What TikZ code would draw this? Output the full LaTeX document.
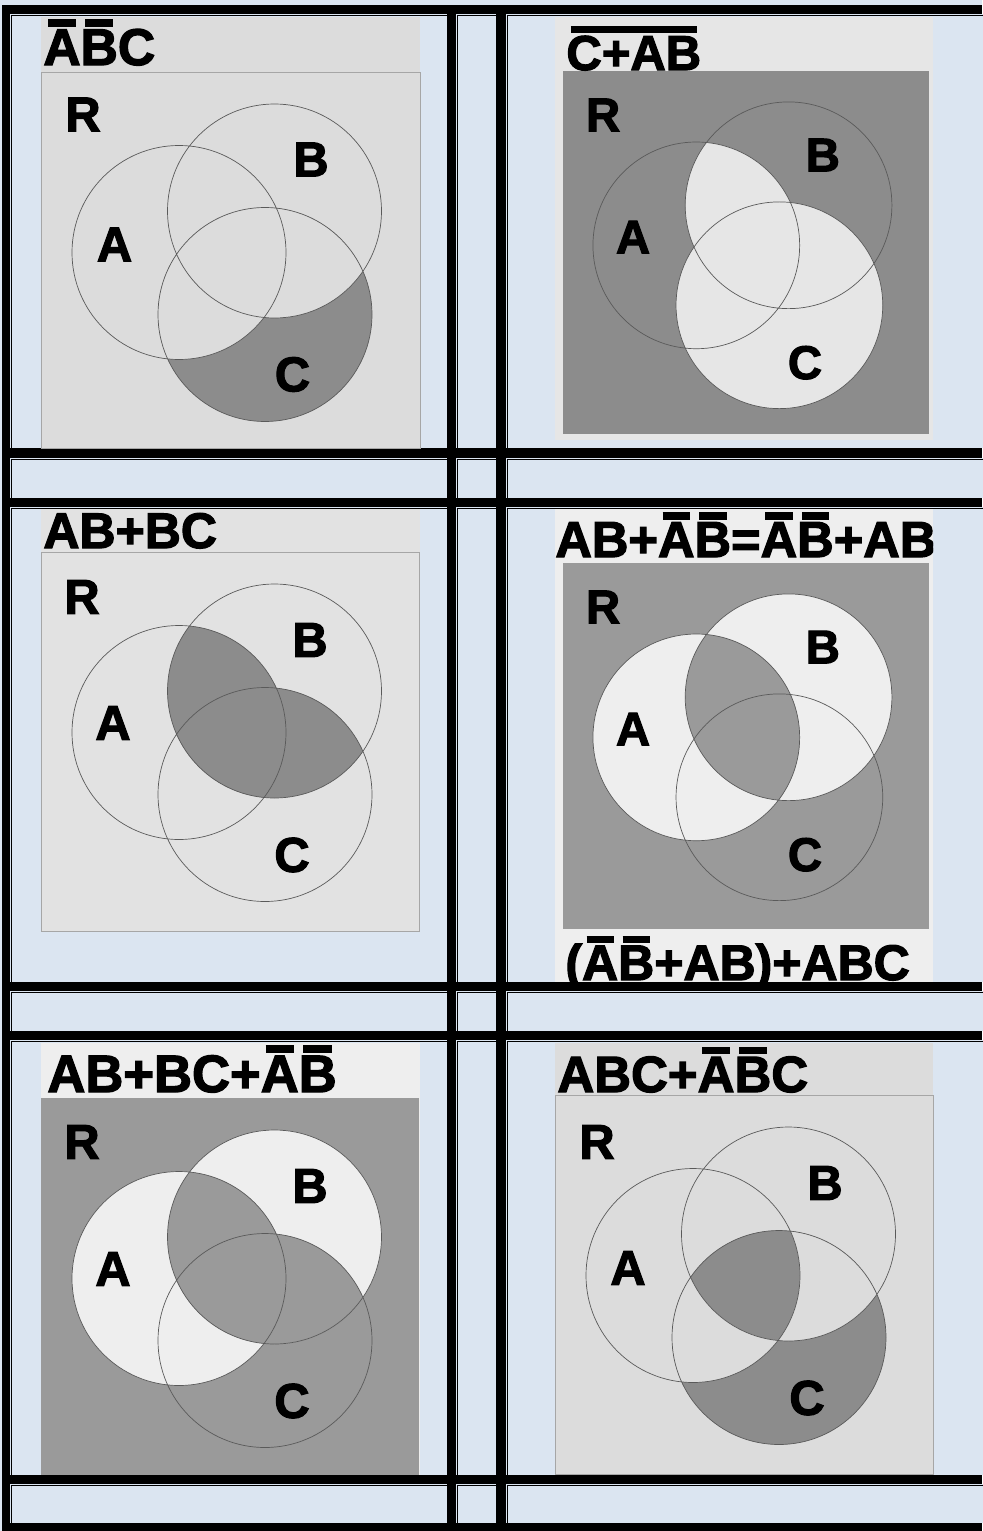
\documentclass[tikz,border=0pt]{standalone}
\usepackage{fontspec}
\setmainfont{Liberation Sans}[BoldFeatures={FakeBold=2.4}]
\usepackage{xcolor}
\usepackage{tikz}
\definecolor{CellBlue}{HTML}{DBE5F1}
\definecolor{VennPale}{HTML}{DCDCDC}
\definecolor{VennPaler}{HTML}{E2E2E2}
\definecolor{VennLight}{HTML}{E6E6E6}
\definecolor{VennWhite}{HTML}{EEEEEE}
\definecolor{VennDark}{HTML}{8C8C8C}
\definecolor{VennMid}{HTML}{9A9A9A}
\definecolor{VennLine}{HTML}{5A5A5A}
\newcommand\notbar[1]{\setbox0\hbox{#1}\rlap{\hskip0.09em\rule[\dimexpr\ht0+0.05em\relax]{\dimexpr\wd0-0.18em\relax}{0.15em}}\box0}
\def\setA{(138,180.5) circle (107)}
\def\setB{(233.5,139) circle (107)}
\def\setC{(224,242.5) circle (107)}

\begin{document}
\begin{tikzpicture}[x=0.5pt, y=-0.5pt,
  venn/.style={draw=VennLine, line width=0.35pt},
  boxframe/.style={draw=black!35, line width=0.5pt},
  setlabel/.style={font=\fontsize{24.4}{28}\selectfont\bfseries, inner sep=0pt},
  small setlabel/.style={setlabel, font=\fontsize{23.6}{27}\selectfont\bfseries},
  formula/.style={font=\fontsize{25.5}{30}\selectfont\bfseries, inner sep=0pt, anchor=base west}
]
  \useasboundingbox (0,0) rectangle (982,1531);
  \fill[CellBlue] (0,0) rectangle (982,1531);
  \fill (2,5) rectangle (982,1531);
  \foreach \xl/\xr in {11/447, 457/496, 507/983}
    \foreach \yt/\yb in {15/448, 459/498, 508/982, 992/1031, 1041/1475, 1485/1523}
    {
      \fill[CellBlue] (\xl-1,\yt-1) rectangle (\xr,\yb);
      \fill (\xl,\yt) rectangle (\xr,\yt+1.4);
      \fill (\xl,\yt) rectangle (\xl+1.4,\yb);
    }

  % not A, not B, C
  \fill[VennPale] (41,17) rectangle (420,448);
  \begin{scope}[shift={(41,72)}]
    \fill[VennDark] \setC;
    \begin{scope}
      \clip \setC;
      \fill[VennPale] \setA;
      \fill[VennPale] \setB;
    \end{scope}
    \draw[venn] \setA \setB \setC;
    \draw[boxframe] (0,0) rectangle (379,376);
    \node[setlabel] (r1) at (42,42.5) {R};
    \node[setlabel] (a1) at (73.5,172.5) {A};
    \node[setlabel] (b1) at (270,87.5) {B};
    \node[setlabel] (c1) at (251.5,302.5) {C};
  \end{scope}
  \node[formula, font=\fontsize{25.8}{30}\selectfont\bfseries] (t1) at (43,65) {\notbar{A}\notbar{B}C};

  % complement of C+AB
  \fill[VennLight] (555,17) rectangle (933,440);
  \begin{scope}[shift={(563,71)}, scale=0.966]
    \fill[VennDark] (0,0) rectangle (379,376);
    \fill[VennLight] \setC;
    \begin{scope}
      \clip \setA;
      \fill[VennLight] \setB;
    \end{scope}
    \draw[venn] \setA \setB \setC;
    \node[small setlabel] (r2) at (41.5,45.5) {R};
    \node[small setlabel] (a2) at (72.5,172) {A};
    \node[small setlabel] (b2) at (269,87) {B};
    \node[small setlabel] (c2) at (250.5,302) {C};
  \end{scope}
  \node[formula, font=\fontsize{24.5}{29}\selectfont\bfseries] (t2) at (566,70) {\notbar{C+AB}};

  % AB+BC
  \fill[VennPaler] (41,509) rectangle (420,931);
  \begin{scope}[shift={(41,552)}]
    \begin{scope}
      \clip \setB;
      \fill[VennDark] \setA;
      \fill[VennDark] \setC;
    \end{scope}
    \draw[venn] \setA \setB \setC;
    \draw[boxframe] (0,0) rectangle (378,379);
    \node[setlabel] (r3) at (41,45) {R};
    \node[setlabel] (a3) at (72,171) {A};
    \node[setlabel] (b3) at (269,88) {B};
    \node[setlabel] (c3) at (251,303) {C};
  \end{scope}
  \node[formula, font=\fontsize{25}{29}\selectfont\bfseries] (t3) at (43,548) {AB+BC};

  % A xor B
  \begin{scope}
    \clip (555,509) rectangle (933,982);
    \fill[VennWhite] (555,509) rectangle (933,982);
    \begin{scope}[shift={(563,563)}, scale=0.966]
      \fill[VennMid] (0,0) rectangle (379,379);
      \fill[VennWhite] \setA;
      \fill[VennWhite] \setB;
      \begin{scope}
        \clip \setA;
        \fill[VennMid] \setB;
      \end{scope}
      \draw[venn] \setA \setB \setC;
      \node[small setlabel] (r4) at (41.5,45.5) {R};
      \node[small setlabel] (a4) at (72.5,172) {A};
      \node[small setlabel] (b4) at (269,87) {B};
      \node[small setlabel] (c4) at (250.5,302) {C};
    \end{scope}
    \node[formula, font=\fontsize{25.3}{29}\selectfont\bfseries] (t4) at (555,557)
      {AB+\notbar{A}\notbar{B}=\notbar{A}\notbar{B}+AB};
    \node[formula, font=\fontsize{25}{29}\selectfont\bfseries] (u4) at (565,980)
      {(\notbar{A}\notbar{B}+AB)+ABC};
  \end{scope}

  % AB+BC+not A not B
  \fill[VennWhite] (41,1043) rectangle (420,1475);
  \begin{scope}[shift={(41,1098)}]
    \fill[VennMid] (0,0) rectangle (378,377);
    \fill[VennWhite] \setA;
    \fill[VennWhite] \setB;
    \begin{scope}
      \clip \setB;
      \fill[VennMid] \setA;
      \fill[VennMid] \setC;
    \end{scope}
    \draw[venn] \setA \setB \setC;
    \node[setlabel] (r5) at (41,44) {R};
    \node[setlabel] (a5) at (72,171) {A};
    \node[setlabel] (b5) at (269,88) {B};
    \node[setlabel] (c5) at (251,303) {C};
  \end{scope}
  \node[formula, font=\fontsize{26.3}{30}\selectfont\bfseries] (t5) at (47,1092) {AB+BC+\notbar{A}\notbar{B}};

  % ABC + not A not B C
  \fill[VennPale] (555,1043) rectangle (933,1474);
  \begin{scope}[shift={(555,1095)}]
    \fill[VennDark] \setC;
    \begin{scope}
      \clip \setC;
      \fill[VennPale, even odd rule] \setA \setB;
    \end{scope}
    \draw[venn] \setA \setB \setC;
    \draw[boxframe] (0,0) rectangle (378,379);
    \node[setlabel] (r6) at (42,47) {R};
    \node[setlabel] (a6) at (73,173) {A};
    \node[setlabel] (b6) at (270,88) {B};
    \node[setlabel] (c6) at (252,303) {C};
  \end{scope}
  \node[formula] (t6) at (557,1092) {ABC+\notbar{A}\notbar{B}C};
\end{tikzpicture}
\end{document}
